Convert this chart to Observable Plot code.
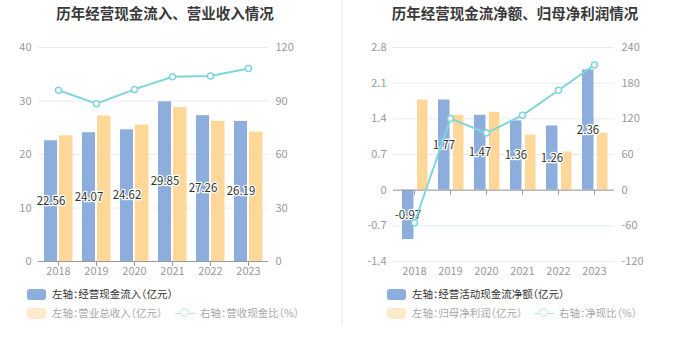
<!DOCTYPE html>
<html><head><meta charset="utf-8">
<script src="https://cdn.jsdelivr.net/npm/d3@7"></script>
<script src="https://cdn.jsdelivr.net/npm/@observablehq/plot@0.6"></script>
<style>
html,body{margin:0;padding:0;background:#fff;}
body{width:680px;height:349px;position:relative;overflow:hidden;font-family:"Noto Sans CJK SC","Noto Sans",sans-serif;}
.chart{position:absolute;top:0;width:340px;height:349px;}
.chart svg{position:absolute;left:0;top:0;}
.title{position:absolute;top:2px;left:0;width:330px;text-align:center;font-size:14.5px;font-weight:bold;color:#3a3a3a;line-height:22px;}
.leg{position:absolute;font-size:10.5px;line-height:14px;white-space:nowrap;display:flex;align-items:center;font-feature-settings:"halt";}
.sw{display:inline-block;width:19px;height:11px;border-radius:3px;margin-right:6px;}
.lineicon{display:inline-block;position:relative;width:20px;height:11px;margin-right:5px;}
.lineicon:before{content:"";position:absolute;left:0;right:0;top:5px;height:1.5px;background:#b9e8e9;}
.lineicon:after{content:"";position:absolute;left:5px;top:0.5px;width:7px;height:7px;border:1.5px solid #b9e8e9;border-radius:50%;background:#fff;}
#divider{position:absolute;left:341px;top:0;width:2px;height:325px;background:#f2f2f2;}
</style></head>
<body>
<div id="divider"></div>
<div class="chart" id="c1" style="left:0">
  <div class="title">历年经营现金流入、营业收入情况</div>
  <div class="leg" style="left:27px;top:287px;color:#333"><span class="sw" style="background:#8daedc"></span>左轴：经营现金流入（亿元）</div>
  <div class="leg" style="left:27px;top:306px;color:#a8a8a8"><span class="sw" style="background:#ffebcc"></span>左轴：营业总收入（亿元）</div>
  <div class="leg" style="left:175px;top:306px;color:#a8a8a8"><span class="lineicon"></span>右轴：营收现金比（%）</div>
</div>
<div class="chart" id="c2" style="left:340px">
  <div class="title" style="left:10px">历年经营现金流净额、归母净利润情况</div>
  <div class="leg" style="left:47px;top:287px;color:#333"><span class="sw" style="background:#8daedc"></span>左轴：经营活动现金流净额（亿元）</div>
  <div class="leg" style="left:47px;top:306px;color:#a8a8a8"><span class="sw" style="background:#ffebcc"></span>左轴：归母净利润（亿元）</div>
  <div class="leg" style="left:194px;top:306px;color:#a8a8a8"><span class="lineicon"></span>右轴：净现比（%）</div>
</div>
<script>
// ---- data ----
const years = ["2018","2019","2020","2021","2022","2023"];
const cashInflow = [22.56, 24.07, 24.62, 29.85, 27.26, 26.19];
const revenue = [23.5, 27.2, 25.5, 28.8, 26.2, 24.2];
const cashRatio = [96.0, 88.5, 96.5, 103.6, 104.0, 108.2];
const netCashFlow = [-0.97, 1.77, 1.47, 1.36, 1.26, 2.36];
const netProfit = [1.77, 1.47, 1.53, 1.08, 0.75, 1.12];
const netCashRatio = [-54.8, 120.4, 96.1, 125.9, 168.0, 210.7];
const leftTicks1 = [0, 10, 20, 30, 40];
const rightTicks1 = [0, 30, 60, 90, 120];
const leftTicks2 = [-1.4, -0.7, 0, 0.7, 1.4, 2.1, 2.8];
const rightTicks2 = [-120, -60, 0, 60, 120, 180, 240];

const BLUE = "#8daedc", ORANGE = "#ffd899", TEAL = "#80d5d8";

function makeChart(cfg) {
  const k = cfg.leftTicks[cfg.leftTicks.length - 1] / cfg.rightTicks[cfg.rightTicks.length - 1];
  const rows = years.map((y, i) => ({year: y, a: cfg.a[i], b: cfg.b[i], r: cfg.r[i] * k}));
  return Plot.plot({
    width: 340, height: 280,
    marginTop: 47, marginBottom: 19, marginLeft: cfg.ml, marginRight: cfg.mr,
    style: {fontFamily: '"Noto Sans CJK SC","Noto Sans",sans-serif', fontSize: "11px", color: "#999", background: "transparent"},
    x: {domain: years, padding: 0, label: null},
    y: {domain: [cfg.leftTicks[0], cfg.leftTicks[cfg.leftTicks.length - 1]], label: null},
    marks: [
      Plot.gridY(cfg.leftTicks, {stroke: "#e6eaf3", strokeOpacity: 1}),
      Plot.axisY(cfg.leftTicks, {tickSize: 0, tickPadding: 7, fill: "#999", tickFormat: d => String(+d.toFixed(1)), label: null}),
      Plot.axisY(cfg.leftTicks, {anchor: "right", tickSize: 0, tickPadding: 7, fill: "#999", tickFormat: d => String(Math.round(d / k)), label: null}),
      Plot.axisX({tickSize: 0, tickPadding: 6, fill: "#999", label: null}),
      Plot.barY(rows, {x: "year", y: "a", fill: BLUE, insetLeft: cfg.ia[0], insetRight: cfg.ia[1]}),
      Plot.barY(rows, {x: "year", y: "b", fill: ORANGE, insetLeft: cfg.ib[0], insetRight: cfg.ib[1]}),
      Plot.ruleY([0], {stroke: "#9a9a9a", strokeWidth: 1}),
      Plot.ruleX(rows, {x: "year", y1: () => 0, y2: () => 0, insetBottom: -5, stroke: "#9a9a9a"}),
      Plot.text(rows, {x: "year", y: d => d.a / 2, text: d => d.a.toFixed(2), dx: cfg.dx, fill: "#333", stroke: "#fff", strokeWidth: 2.5, fontSize: 11.5}),
      Plot.line(rows, {x: "year", y: "r", stroke: TEAL, strokeWidth: 2}),
      Plot.dot(rows, {x: "year", y: "r", r: 3, fill: "#fff", stroke: TEAL, strokeWidth: 1.5})
    ]
  });
}

document.getElementById("c1").appendChild(makeChart({
  a: cashInflow, b: revenue, r: cashRatio,
  leftTicks: leftTicks1, rightTicks: rightTicks1,
  ml: 38, mr: 72, ia: [5, 20], ib: [20, 4.5], dx: -7.5
}));
document.getElementById("c2").appendChild(makeChart({
  a: netCashFlow, b: netProfit, r: netCashRatio,
  leftTicks: leftTicks2, rightTicks: rightTicks2,
  ml: 53, mr: 66, ia: [6, 18.5], ib: [21, 4.5], dx: -6.5
}));
</script>
</body></html>
